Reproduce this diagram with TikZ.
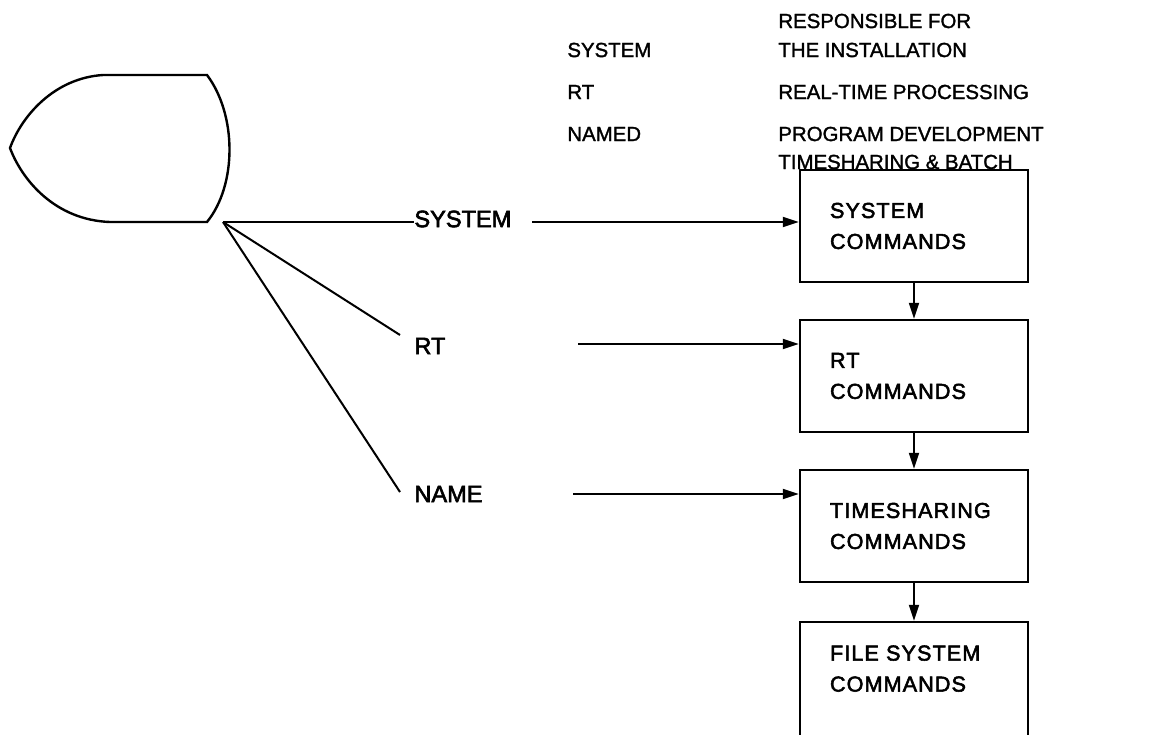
\documentclass[tikz,border=0pt]{standalone}
\usepackage{fontspec}
\setmainfont[FakeBold=1.5]{Liberation Sans}
\newfontfamily\cmdfont[LetterSpace=5,FakeBold=2.5]{Liberation Sans}
\newfontfamily\keyfont[FakeBold=2.5]{Liberation Sans}
\usetikzlibrary{arrows.meta, positioning}

\begin{document}
\begin{tikzpicture}[
    x=0.5pt, y=-0.5pt,
    toptext/.style={anchor=west, inner sep=0pt, font=\fontsize{10.2}{12}\selectfont},
    midtext/.style={anchor=west, inner sep=0pt, font={\fontsize{11.8}{14}\keyfont}},
    cmdbox/.style={rectangle, draw, line width=1.2pt, text width=84pt, inner xsep=15pt, minimum height=56pt, align=left, font={\fontsize{10.8}{15.5}\cmdfont}},
    link/.style={line width=1pt},
    flow/.style={line width=1pt, -{Triangle[length=8pt,width=5pt]}}
]
    \clip (0,0) rectangle (1149,734);

    % the key shape
    \draw[line width=1.2pt] (103,75) -- (207,75) .. controls (237,115) and (237,185) .. (207,222)
        -- (110,222) .. controls (55,220) and (22,180) .. (10,148)
        .. controls (22,115) and (55,78) .. (103,75) -- cycle;

    % legend on top
    \node[toptext] (resp1) at (778,21) {RESPONSIBLE FOR};
    \node[toptext] (sysname) at (567,50) {SYSTEM};
    \node[toptext] (resp2) at (778,50) {THE INSTALLATION};
    \node[toptext] (rtname) at (567,92) {RT};
    \node[toptext] (rtresp) at (778,92) {REAL-TIME PROCESSING};
    \node[toptext] (namedname) at (567,134) {NAMED};
    \node[toptext] (namedresp1) at (778,134) {PROGRAM DEVELOPMENT};
    \node[toptext] (namedresp2) at (778,162) {TIMESHARING \& BATCH};

    % keys
    \coordinate (hub) at (223,222);
    \node[midtext] (sysin) at (414,219) {SYSTEM};
    \node[midtext] (rtin) at (414,346) {RT};
    \node[midtext] (namein) at (414,494) {NAME};
    \coordinate (rtend) at (400,335);
    \coordinate (nameend) at (400,492);

    \draw[link] (hub) -- (sysin.west |- hub);
    \draw[link] (hub) -- (rtend);
    \draw[link] (hub) -- (nameend);

    % command levels
    \node[cmdbox] (syscmd) at (914,226) {SYSTEM\\COMMANDS};
    \node[cmdbox] (rtcmd) at (914,376) {RT\\COMMANDS};
    \node[cmdbox] (tscmd) at (914,526) {TIMESHARING\\COMMANDS};
    \node[cmdbox, minimum height=60pt] (filecmd) at (914,682) {FILE SYSTEM\\COMMANDS\\[-2pt]\mbox{}};

    \coordinate (sysfrom) at (532,222);
    \coordinate (rtfrom) at (578,344);
    \coordinate (namefrom) at (573,494);
    \draw[flow] (sysfrom) -- (sysfrom -| syscmd.west);
    \draw[flow] (rtfrom) -- (rtfrom -| rtcmd.west);
    \draw[flow] (namefrom) -- (namefrom -| tscmd.west);

    \draw[flow] (syscmd.south) -- (rtcmd.north);
    \draw[flow] (rtcmd.south) -- (tscmd.north);
    \draw[flow] (tscmd.south) -- (filecmd.north);
\end{tikzpicture}
\end{document}
